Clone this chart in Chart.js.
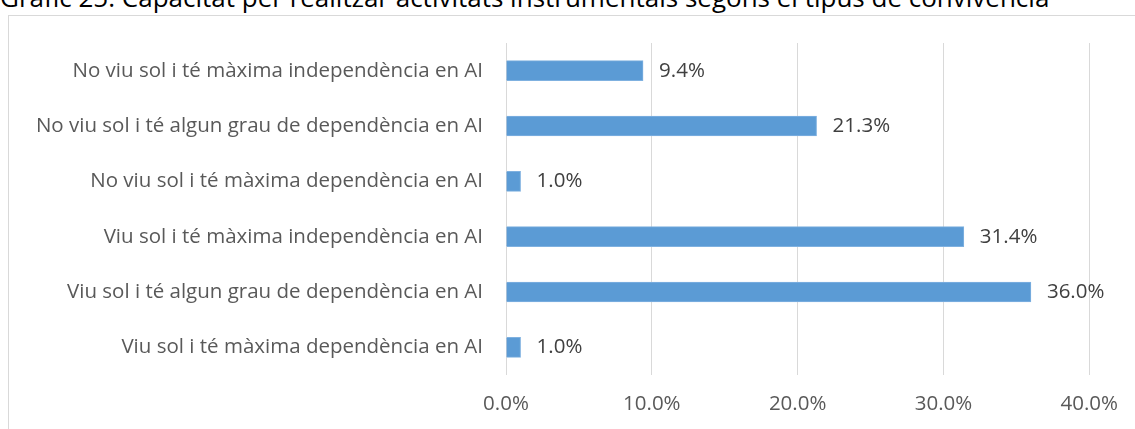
<!DOCTYPE html>
<html>
<head>
<meta charset="utf-8">
<script src="https://cdn.jsdelivr.net/npm/chart.js@4.4.1/dist/chart.umd.min.js"></script>
<style>
  html, body { margin: 0; padding: 0; background: #fff; overflow: hidden; }
  #wrap { position: relative; width: 1135px; height: 429px; }
  #title {
    position: absolute; left: 0; top: -16px; white-space: nowrap;
    font: 26px "Open Sans", sans-serif; line-height: 26px; color: #000;
  }
  #frame {
    position: absolute; left: 8px; top: 15px; width: 1140px; height: 430px;
    border: 1px solid #d9d9d9; box-sizing: border-box;
  }
  #chart { position: absolute; left: 0; top: 0; }
</style>
</head>
<body>
<div id="wrap">
  <div id="title">Gràfic 25. Capacitat per realitzar activitats instrumentals segons el tipus de convivència</div>
  <div id="frame"></div>
  <canvas id="chart" width="1135" height="429"></canvas>
</div>
<script>
// ----- Data -----
const categories = [
  'No viu sol i té màxima independència en AI',
  'No viu sol i té algun grau de dependència en AI',
  'No viu sol i té màxima dependència en AI',
  'Viu sol i té màxima independència en AI',
  'Viu sol i té algun grau de dependència en AI',
  'Viu sol i té màxima dependència en AI',
];
const percentages = [9.4, 21.3, 1.0, 31.4, 36.0, 1.0];
const xTicks = [0, 10, 20, 30, 40];

const FONT = '"Open Sans", sans-serif';
const SIZE = 20.5;

// draws "9.4%" style labels just past the end of each bar
const valueLabels = {
  id: 'valueLabels',
  afterDatasetsDraw(chart) {
    const { ctx } = chart;
    const meta = chart.getDatasetMeta(0);
    ctx.save();
    ctx.font = `${SIZE}px ${FONT}`;
    ctx.fillStyle = '#404040';
    ctx.textAlign = 'left';
    ctx.textBaseline = 'middle';
    meta.data.forEach((bar, i) => {
      ctx.fillText(percentages[i].toFixed(1) + '%', bar.x + 16, bar.y);
    });
    ctx.restore();
  },
};

new Chart(document.getElementById('chart'), {
  type: 'bar',
  data: {
    labels: categories,
    datasets: [{
      data: percentages,
      backgroundColor: '#5b9bd5',
      borderColor: '#7fb1e0',
      borderWidth: 1,
      borderSkipped: 'left',
      barThickness: 20,
    }],
  },
  options: {
    indexAxis: 'y',
    responsive: false,
    animation: false,
    layout: { padding: { top: 43, right: 41, left: 0, bottom: 0 } },
    plugins: { legend: { display: false }, tooltip: { enabled: false } },
    scales: {
      x: {
        min: 0, max: 40,
        afterBuildTicks: s => { s.ticks = xTicks.map(v => ({ value: v })); },
        afterFit: s => { s.height = 54; },
        grid: { color: '#d9d9d9', lineWidth: 1, drawTicks: false },
        border: { display: false },
        ticks: {
          padding: 17,
          color: '#595959',
          font: { family: FONT, size: SIZE },
          callback: v => v.toFixed(1) + '%',
        },
      },
      y: {
        afterFit: s => { s.width = 506; },
        grid: { display: false, drawTicks: false },
        border: { display: false },
        ticks: {
          padding: 23,
          color: '#595959',
          font: { family: FONT, size: SIZE },
        },
      },
    },
  },
  plugins: [valueLabels],
});
</script>
</body>
</html>
